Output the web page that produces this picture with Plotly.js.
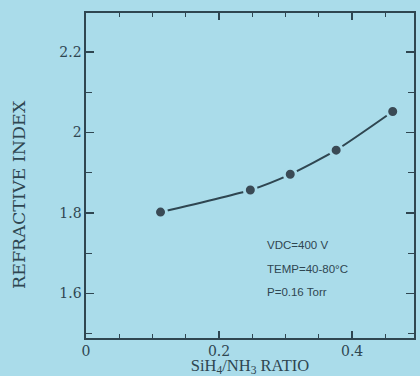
<!DOCTYPE html>
<html>
<head>
<meta charset="utf-8">
<script src="https://cdn.plot.ly/plotly-3.0.1.min.js"></script>
<style>
html,body{margin:0;padding:0;background:#aadcea;}
#chart{width:420px;height:376px;}
</style>
</head>
<body>
<div id="chart"></div>
<script>
// SiH4/NH3 ratio vs refractive index
const ratio = [0.112, 0.247, 0.307, 0.376, 0.461];
const refractiveIndex = [1.802, 1.857, 1.896, 1.956, 2.052];
const conditions = ["VDC=400 V", "TEMP=40-80°C", "P=0.16 Torr"];
const xTickVals = [0, 0.2, 0.4];
const xTickText = ["0", "0.2", "0.4"];
const yTickVals = [1.6, 1.8, 2, 2.2];
const yTickText = ["1.6", "1.8", "2", "2.2"];
const xTitle = 'SiH<sub>4</sub>/NH<sub>3</sub> RATIO';
const yTitle = 'REFRACTIVE INDEX';

const bg = '#aadcea';
const ink = '#2f4651';

const trace = {
  x: ratio,
  y: refractiveIndex,
  mode: 'lines+markers',
  type: 'scatter',
  line: {color: ink, width: 2, shape: 'spline', smoothing: 0.6},
  marker: {color: '#3a4a55', size: 12, line: {color: bg, width: 3}},
  hoverinfo: 'skip'
};

const serif = 'DejaVu Serif, Liberation Serif, serif';
const axisFont = {family: serif, size: 14, color: ink};

const annotations = conditions.map((t, i) => ({
  text: t, xref: 'paper', yref: 'paper',
  x: (265 - 86) / 328, y: (338 - (245 + i * 23.5)) / 325,
  xanchor: 'left', yanchor: 'middle', showarrow: false,
  font: {family: 'Liberation Sans Narrow, Liberation Sans, Arial, sans-serif', size: 11.5, color: ink}
}));
annotations.push({
  text: yTitle, textangle: -90, xref: 'paper', yref: 'paper',
  x: (19 - 86) / 328, y: (338 - 195) / 325,
  xanchor: 'center', yanchor: 'middle', showarrow: false,
  font: {family: serif, size: 17.5, color: ink}
});

const layout = {
  width: 420, height: 376,
  paper_bgcolor: bg, plot_bgcolor: bg,
  margin: {l: 86, r: 6, t: 13, b: 38},
  showlegend: false,
  xaxis: {
    range: [0, 0.493],
    tickmode: 'array', tickvals: xTickVals, ticktext: xTickText,
    ticks: 'inside', ticklen: 7, tickwidth: 1.3, tickcolor: ink,
    minor: {dtick: 0.05, tick0: 0, ticks: 'inside', ticklen: 4, tickcolor: ink, tickwidth: 1.2},
    showline: true, linecolor: ink, linewidth: 1.6, mirror: 'ticks',
    showgrid: false, zeroline: false,
    tickfont: axisFont,
    title: {text: xTitle, font: {family: 'Liberation Serif, DejaVu Serif, serif', size: 16.5, color: ink}, standoff: 0}
  },
  yaxis: {
    range: [1.489, 2.297],
    tickmode: 'array', tickvals: yTickVals, ticktext: yTickText,
    ticks: 'inside', ticklen: 8, tickwidth: 1.3, tickcolor: ink,
    minor: {dtick: 0.1, tick0: 1.5, ticks: 'inside', ticklen: 6, tickcolor: ink, tickwidth: 1.2},
    showline: true, linecolor: ink, linewidth: 1.6, mirror: 'ticks',
    showgrid: false, zeroline: false,
    tickfont: axisFont
  },
  annotations: annotations
};

Plotly.newPlot('chart', [trace], layout, {displayModeBar: false, staticPlot: true});
</script>
</body>
</html>
